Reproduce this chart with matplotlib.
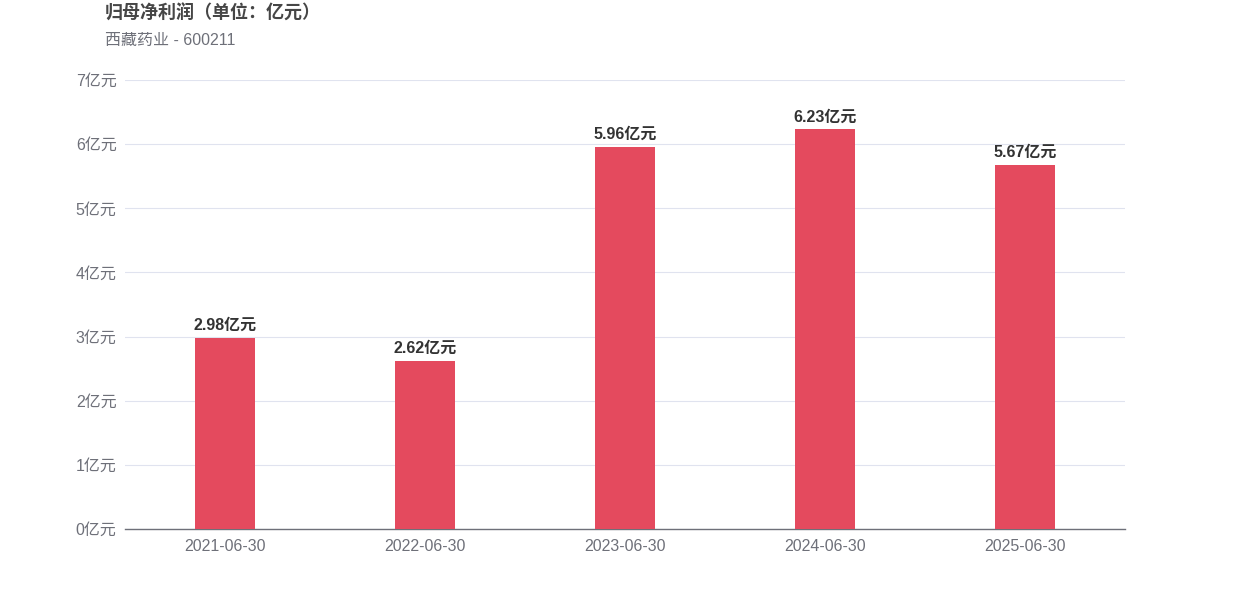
import matplotlib
matplotlib.use("Agg")
import matplotlib.pyplot as plt
import numpy as np

plt.rcParams['font.family'] = ['Liberation Sans', 'Noto Sans CJK SC', 'DejaVu Sans']

# 数据
dates = ["2021-06-30", "2022-06-30", "2023-06-30", "2024-06-30", "2025-06-30"]
profit = [2.98, 2.62, 5.96, 6.23, 5.67]
yticks = [0, 1, 2, 3, 4, 5, 6, 7]

bar_color = '#e44a5e'
axis_color = '#6e7079'

fig = plt.figure(figsize=(12.5, 6), dpi=100)
ax = fig.add_axes([0.1, 0.1183, 0.8, 0.7483])

x = np.arange(len(dates))
ax.bar(x, profit, width=0.3, color=bar_color, zorder=3)

for xi, v in zip(x, profit):
    ax.text(xi, v + 0.08, f"{v:.2f}亿元", ha='center', va='bottom',
            fontsize=11.5, fontweight='bold', color='#333333')

ax.set_xlim(-0.5, len(dates) - 0.5)
ax.set_ylim(0, 7)
ax.set_xticks(x)
ax.set_xticklabels(dates)
ax.set_yticks(yticks)
ax.set_yticklabels([f"{t}亿元" for t in yticks])
ax.tick_params(axis='both', length=0, labelsize=11.5, colors=axis_color)
ax.tick_params(axis='x', pad=7)
ax.tick_params(axis='y', pad=6)

ax.grid(axis='y', color='#e0e3ef', linewidth=0.8, zorder=0)
for s in ['top', 'right', 'left']:
    ax.spines[s].set_visible(False)
ax.spines['bottom'].set_color(axis_color)
ax.spines['bottom'].set_linewidth(1)

fig.text(105 / 1250, 1 - 14 / 600, "归母净利润（单位：亿元）", ha='left', va='center',
         fontsize=13, fontweight='bold', color='#464646')
fig.text(105 / 1250, 1 - 40 / 600, "西藏药业 - 600211", ha='left', va='center',
         fontsize=11.5, color='#6e7079')

fig.savefig("out.png", dpi=100, facecolor='white')
